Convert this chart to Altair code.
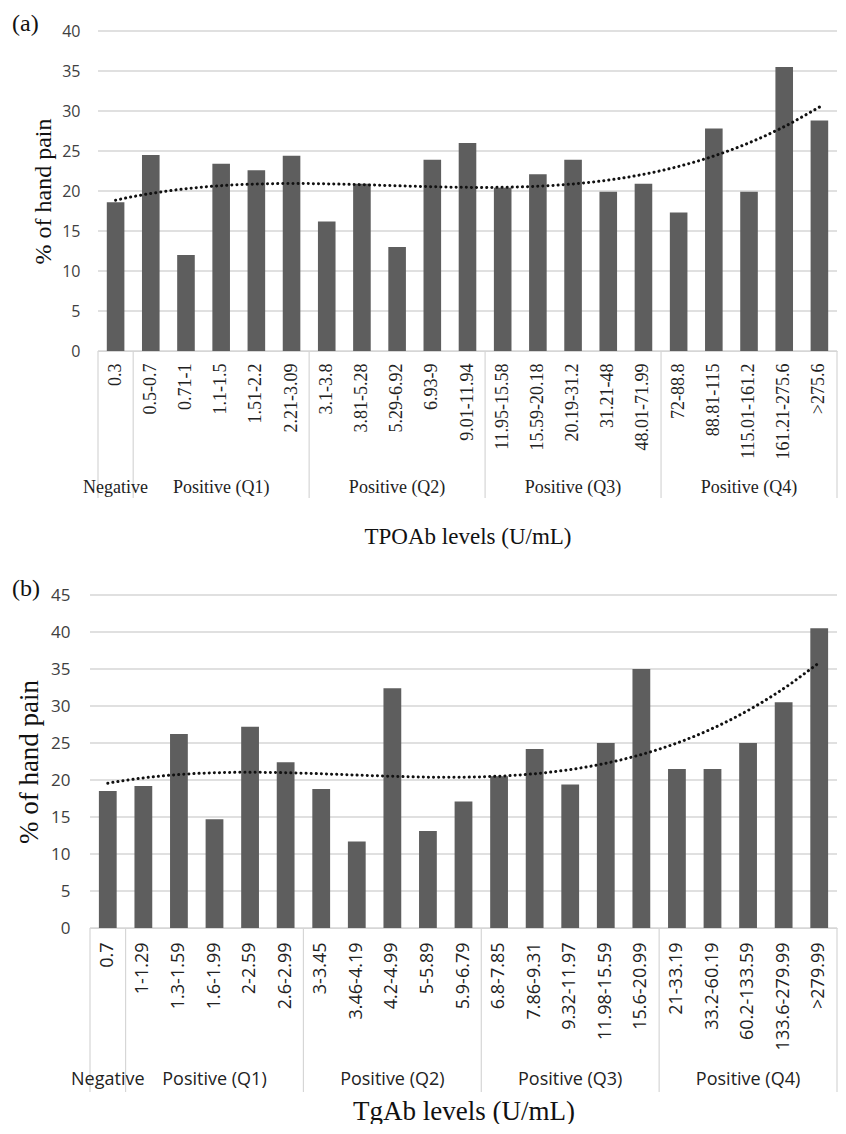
import altair as alt
import pandas as pd

# ---------------- data ----------------
tpo_labels = ["0.3", "0.5-0.7", "0.71-1", "1.1-1.5", "1.51-2.2", "2.21-3.09",
              "3.1-3.8", "3.81-5.28", "5.29-6.92", "6.93-9", "9.01-11.94",
              "11.95-15.58", "15.59-20.18", "20.19-31.2", "31.21-48", "48.01-71.99",
              "72-88.8", "88.81-115", "115.01-161.2", "161.21-275.6", ">275.6"]
tpo_values = [18.6, 24.5, 12.0, 23.4, 22.6, 24.4,
              16.2, 20.9, 13.0, 23.9, 26.0,
              20.4, 22.1, 23.9, 19.9, 20.9,
              17.3, 27.8, 19.9, 35.5, 28.8]

tg_labels = ["0.7", "1-1.29", "1.3-1.59", "1.6-1.99", "2-2.59", "2.6-2.99",
             "3-3.45", "3.46-4.19", "4.2-4.99", "5-5.89", "5.9-6.79",
             "6.8-7.85", "7.86-9.31", "9.32-11.97", "11.98-15.59", "15.6-20.99",
             "21-33.19", "33.2-60.19", "60.2-133.59", "133.6-279.99", ">279.99"]
tg_values = [18.5, 19.2, 26.2, 14.7, 27.2, 22.4,
             18.8, 11.7, 32.4, 13.1, 17.1,
             20.5, 24.2, 19.4, 25.0, 35.0,
             21.5, 21.5, 25.0, 30.5, 40.5]

tpo_ticks = [0, 5, 10, 15, 20, 25, 30, 35, 40]
tg_ticks = [0, 5, 10, 15, 20, 25, 30, 35, 40, 45]

group_names = ["Negative", "Positive (Q1)", "Positive (Q2)", "Positive (Q3)", "Positive (Q4)"]
group_first = [0, 1, 6, 11, 16]
group_last = [0, 5, 10, 15, 20]

TREND_ORDER = 3  # polynomial trendline order

SERIF = "Liberation Serif"
SANS = "Open Sans"
BAR = "#5e5e5e"
GRID = "#d6d6d6"
W = 747  # shared panel width (both panels share the same left origin)


def panel(tag, labels, values, ticks, x0, height, ymax, xlab_font, xlab_size,
          grp_font, grp_size, ytick_size, ylab_pad, ytitle_x, ytitle_size,
          xtitle, xtitle_size, xtitle_y, grp_y, sep_len, tag_x, tag_y, xlab_pad):
    df = pd.DataFrame({"label": labels, "value": values, "idx": list(range(len(labels)))})
    n = len(labels)
    rng = [x0, W]
    qscale = alt.Scale(domain=[-0.5, n - 0.5], range=rng, nice=False, zero=False)
    yscale = alt.Scale(domain=[0, ymax], nice=False)
    yaxis = alt.Axis(values=ticks, tickCount=len(ticks),
                     grid=False, domain=False, ticks=False,
                     tickSize=0, labelOverlap=False,
                     labelFont=SANS, labelFontSize=ytick_size, labelColor="#404040",
                     labelPadding=ylab_pad,
                     title="% of hand pain", titleFont=SERIF,
                     titleFontSize=ytitle_size, titleFontWeight="normal",
                     titleColor="#111111", titleX=ytitle_x, titleY=height / 2,
                     titleAngle=270, titleAlign="center", titleBaseline="middle")

    # horizontal gridlines spanning the bar area only
    grid = alt.Chart(pd.DataFrame({"g": ticks})).mark_rule(color=GRID, strokeWidth=1.3).encode(
        x=alt.value(x0), x2=alt.value(W),
        y=alt.Y("g:Q", scale=yscale, axis=yaxis))

    bars = alt.Chart(df).mark_bar(color=BAR).encode(
        x=alt.X("label:N", sort=labels,
                scale=alt.Scale(paddingInner=0.5, paddingOuter=0.25, range=rng),
                axis=alt.Axis(labelAngle=270, labelFont=xlab_font, labelFontSize=xlab_size,
                              labelColor="#222222", labelPadding=xlab_pad, ticks=False,
                              tickSize=0,
                              domain=True, domainColor=GRID, domainWidth=1.2,
                              grid=False, labelOverlap=False, labelBound=False,
                              title=xtitle, titleFont=SERIF, titleFontSize=xtitle_size,
                              titleFontWeight="normal", titleColor="#111111",
                              titleX=(x0 + W) / 2, titleY=xtitle_y, titleAlign="center",
                              titleBaseline="alphabetic")),
        y=alt.Y("value:Q", scale=yscale, axis=yaxis),
    )

    trend = (
        alt.Chart(df).transform_regression("idx", "value", method="poly", order=TREND_ORDER)
        .mark_line(color="#111111", strokeWidth=3, strokeDash=[0.1, 5], strokeCap="round")
        .encode(x=alt.X("idx:Q", scale=qscale, axis=None),
                y=alt.Y("value:Q", scale=yscale, axis=yaxis))
    )

    sep_df = pd.DataFrame({"pos": [f - 0.5 for f in group_first] + [group_last[-1] + 0.5]})
    seps = alt.Chart(sep_df).mark_rule(color=GRID, strokeWidth=1.2).encode(
        x=alt.X("pos:Q", scale=qscale, axis=None),
        y=alt.value(height), y2=alt.value(height + sep_len))

    gdf = pd.DataFrame({"name": group_names,
                        "center": [(a + b) / 2 for a, b in zip(group_first, group_last)]})
    groups = alt.Chart(gdf).mark_text(font=grp_font, fontSize=grp_size, color="#222222",
                                      baseline="middle", align="center").encode(
        x=alt.X("center:Q", scale=qscale, axis=None),
        y=alt.value(height + grp_y), text="name:N")

    tag_mark = alt.Chart(pd.DataFrame({"t": [tag]})).mark_text(
        font=SERIF, fontSize=24, color="#111111", align="left", baseline="middle").encode(
        x=alt.value(tag_x), y=alt.value(tag_y), text="t:N")

    return (alt.layer(grid, bars, trend, seps, groups, tag_mark)
            .resolve_scale(x="independent")
            .properties(width=W, height=height))


# both panels share their left origin (page x = 90); panel (a)'s bars start 8px further right
chart_a = panel("(a)", tpo_labels, tpo_values, tpo_ticks, x0=8, height=320, ymax=40,
                xlab_font=SERIF, xlab_size=18, grp_font=SERIF, grp_size=18,
                ytick_size=16, ylab_pad=10, ytitle_x=-47, ytitle_size=24,
                xtitle="TPOAb levels (U/mL)", xtitle_size=23, xtitle_y=192,
                grp_y=137, sep_len=147, tag_x=-78, tag_y=-7, xlab_pad=12)

chart_b = panel("(b)", tg_labels, tg_values, tg_ticks, x0=0, height=333, ymax=45,
                xlab_font=SANS, xlab_size=18, grp_font=SANS, grp_size=18,
                ytick_size=17, ylab_pad=20, ytitle_x=-61, ytitle_size=27,
                xtitle="TgAb levels (U/mL)", xtitle_size=27, xtitle_y=191,
                grp_y=152, sep_len=164, tag_x=-78, tag_y=-6, xlab_pad=14)

chart = alt.vconcat(chart_a, chart_b, spacing=29).properties(
    padding={"left": 4, "top": 4, "right": 0, "bottom": 0}
).configure_view(stroke=None)

chart.save("out.html", embed_options={"renderer": "svg", "actions": False})
